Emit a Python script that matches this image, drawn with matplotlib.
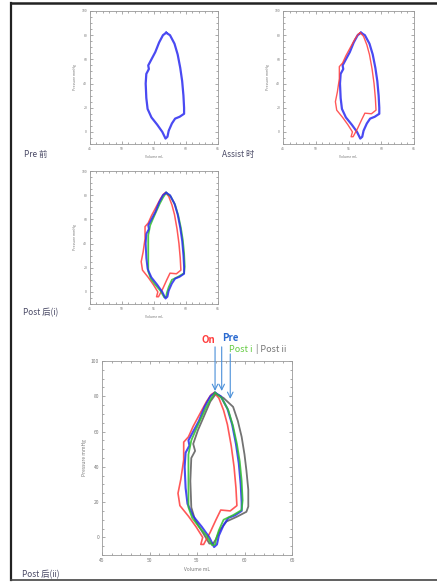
import matplotlib.pyplot as plt
from matplotlib.lines import Line2D

plt.rcParams['font.family'] = ['Noto Sans CJK SC', 'DejaVu Sans']

# pressure-volume loops (volume mL, pressure mmHg)
pre_vol = [56.9, 57.5, 58.2, 58.7, 59.1, 59.4, 59.6, 59.7, 59.7, 59.0, 58.3, 57.8, 57.3, 57.1, 56.8,
           56.3, 55.5, 54.6, 54.0, 53.8, 53.7, 53.8, 54.2, 54.1, 54.6, 55.2, 55.8, 56.4, 56.9]
pre_pres = [82, 80, 73, 64, 53, 42, 30, 20, 15, 12.5, 11, 7, 1, -4, -5.5,
            0, 6, 12, 19, 28, 40, 48, 52, 55, 60, 66, 74, 80, 82]

on_vol = [56.8, 57.3, 57.8, 58.2, 58.6, 58.9, 59.1, 59.2, 58.5, 57.5, 57.0, 56.4, 55.9, 55.7, 55.4,
          55.6, 54.9, 54.1, 53.2, 53.0, 53.3, 53.6, 53.6, 54.1, 54.6, 55.3, 56.0, 56.5, 56.8]
on_pres = [82, 79, 72, 64, 52, 40, 28, 18, 15, 15.5, 10, 3, -2, -4, -4,
           0, 6, 12, 18, 25, 33, 44, 54, 57, 63, 70, 77, 81, 82]

posti_vol = [56.9, 57.6, 58.3, 58.8, 59.2, 59.5, 59.7, 59.8, 59.7, 58.8, 57.8, 57.3, 57.0, 56.9, 56.6,
             56.0, 55.2, 54.5, 54.1, 54.1, 54.1, 54.4, 54.8, 55.3, 55.9, 56.4, 56.9]
posti_pres = [82, 79, 72, 63, 53, 43, 32, 21, 15.5, 12.6, 10, 4, -1, -4, -4.5,
              1, 6, 11, 17, 32, 47, 55, 60, 66, 73, 78, 82]

postii_vol = [57.0, 57.8, 58.8, 59.3, 59.7, 60.0, 60.2, 60.4, 60.4, 60.2, 59.2, 58.1, 57.4, 57.0, 56.7, 56.3,
              55.8, 54.8, 54.4, 54.3, 54.4, 54.8, 54.6, 55.1, 55.6, 56.0, 56.4, 57.0]
postii_pres = [81.5, 79, 74, 66, 57, 47, 38, 27, 17.5, 14.5, 11.7, 9, 4, -1, -3.5, -3.5,
               1, 9.8, 17, 32, 45, 49, 53, 60.8, 67, 72, 77, 81.5]

captions = ['Pre 前', 'Assist 时', 'Post 后(i)', 'Post 后(ii)']
arrow_x = [56.9, 57.6, 58.5]
arrow_y = [83, 83, 78.5]

BLUE = '#2a2af0'
RED = '#ff3b3b'
GREEN = '#2fbf2f'
GRAY = '#5a5a5a'

fig = plt.figure(figsize=(4.37, 5.82), dpi=100)


def setup(ax, fs, lfs):
    ax.set_xlim(45, 65)
    ax.set_ylim(-10, 100)
    ax.set_xticks([45, 50, 55, 60, 65])
    ax.set_yticks([0, 20, 40, 60, 80, 100])
    ax.set_xticks(range(45, 66), minor=True)
    ax.set_yticks(range(-10, 101, 5), minor=True)
    ax.tick_params(which='both', direction='in', top=True, right=True, colors='#888888',
                   labelsize=fs, labelcolor='#777777', width=0.5, pad=2)
    ax.tick_params(which='major', length=2.5)
    ax.tick_params(which='minor', length=1.2)
    for s in ax.spines.values():
        s.set_color('#999999')
        s.set_linewidth(0.6)
    ax.set_xlabel('Volume mL', fontsize=lfs, color='#777777', labelpad=3)
    ax.set_ylabel('Pressure mmHg', fontsize=lfs, color='#777777', labelpad=3)


def loop(ax, v, p, c, lw):
    ax.plot(v, p, color=c, lw=lw, alpha=0.85)


ax1 = fig.add_axes([90 / 437, 1 - 144 / 582, 128 / 437, 133 / 582])
setup(ax1, 2.5, 2.5)
loop(ax1, pre_vol, pre_pres, BLUE, 1.6)

ax2 = fig.add_axes([283 / 437, 1 - 144 / 582, 131 / 437, 133 / 582])
setup(ax2, 2.5, 2.5)
loop(ax2, pre_vol, pre_pres, BLUE, 1.6)
loop(ax2, on_vol, on_pres, RED, 1.0)

ax3 = fig.add_axes([90 / 437, 1 - 304 / 582, 128 / 437, 133 / 582])
setup(ax3, 2.5, 2.5)
loop(ax3, on_vol, on_pres, RED, 1.1)
loop(ax3, posti_vol, posti_pres, GREEN, 1.3)
loop(ax3, pre_vol, pre_pres, BLUE, 1.4)

ax4 = fig.add_axes([102 / 437, 1 - 555 / 582, 190 / 437, 194 / 582])
setup(ax4, 3.5, 3.5)
loop(ax4, postii_vol, postii_pres, GRAY, 1.3)
loop(ax4, on_vol, on_pres, RED, 1.2)
loop(ax4, pre_vol, pre_pres, BLUE, 1.5)
loop(ax4, posti_vol, posti_pres, GREEN, 1.3)

# arrows pointing to the end-systolic corner
tops = [108, 108, 104]
for x, y, t in zip(arrow_x, arrow_y, tops):
    ax4.annotate('', xy=(x, y), xytext=(x, t), annotation_clip=False,
                 arrowprops=dict(arrowstyle='->', color='#4a90d9', lw=0.8, shrinkA=0, shrinkB=0))
ax4.text(56.2, 109, 'On', color=RED, fontsize=7, fontweight='bold', ha='center', va='bottom')
ax4.text(58.5, 110, 'Pre', color='#2a6ad0', fontsize=7, fontweight='bold', ha='center', va='bottom')
ax4.text(58.4, 104, 'Post i', color='#66cc44', fontsize=6.5, ha='left', va='bottom')
ax4.text(61.2, 104, '| Post ii', color='#777777', fontsize=6.5, ha='left', va='bottom')

# captions
cap_pos = [(24, 155), (222, 155), (23, 313), (22, 575)]
for txt, (x, y) in zip(captions, cap_pos):
    fig.text(x / 437, 1 - y / 582, txt, fontsize=6, color='#4a4a66', ha='left', va='center')

# page border
fig.add_artist(Line2D([11 / 437, 11 / 437], [1 - 3 / 582, 1 - 580 / 582], color='#222222', lw=1.6,
                      transform=fig.transFigure))
fig.add_artist(Line2D([11 / 437, 1], [1 - 3 / 582, 1 - 3 / 582], color='#222222', lw=1.8,
                      transform=fig.transFigure))
fig.add_artist(Line2D([11 / 437, 1], [1 - 580 / 582, 1 - 580 / 582], color='#444444', lw=1.2,
                      transform=fig.transFigure))

fig.savefig('out.png', dpi=100)
